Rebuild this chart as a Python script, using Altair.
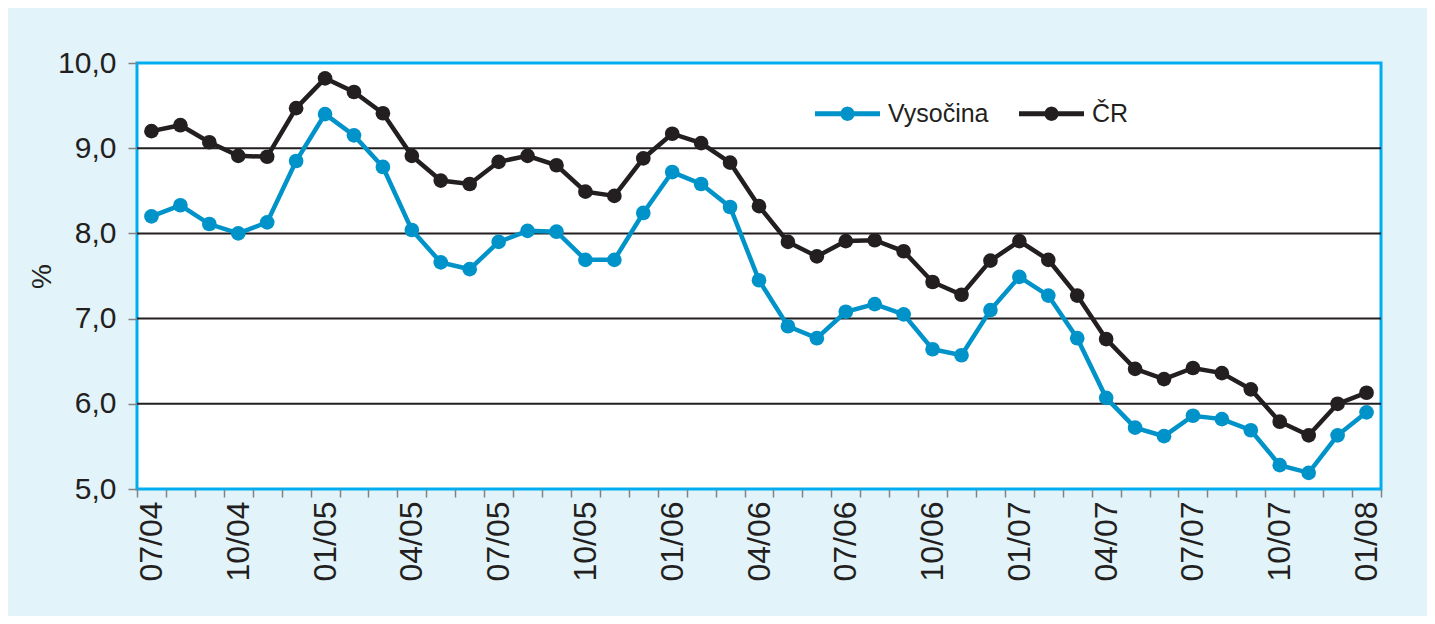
import json
import altair as alt
import pandas as pd

months = ["07/04","08/04","09/04","10/04","11/04","12/04",
          "01/05","02/05","03/05","04/05","05/05","06/05","07/05","08/05","09/05","10/05","11/05","12/05",
          "01/06","02/06","03/06","04/06","05/06","06/06","07/06","08/06","09/06","10/06","11/06","12/06",
          "01/07","02/07","03/07","04/07","05/07","06/07","07/07","08/07","09/07","10/07","11/07","12/07",
          "01/08"]

vysocina = [8.20, 8.33, 8.11, 8.00, 8.13, 8.85,
            9.40, 9.15, 8.78, 8.04, 7.66, 7.58, 7.90, 8.03, 8.02, 7.69, 7.69, 8.24,
            8.72, 8.58, 8.31, 7.45, 6.91, 6.77, 7.08, 7.17, 7.05, 6.64, 6.57, 7.10,
            7.49, 7.27, 6.77, 6.07, 5.72, 5.62, 5.86, 5.82, 5.69, 5.28, 5.19, 5.63,
            5.90]

cr = [9.20, 9.27, 9.07, 8.91, 8.90, 9.47,
      9.82, 9.66, 9.41, 8.91, 8.62, 8.58, 8.84, 8.91, 8.80, 8.49, 8.44, 8.88,
      9.17, 9.06, 8.83, 8.32, 7.90, 7.73, 7.91, 7.92, 7.79, 7.43, 7.28, 7.68,
      7.91, 7.69, 7.27, 6.76, 6.41, 6.29, 6.42, 6.36, 6.17, 5.79, 5.63, 6.00,
      6.13]

series_names = ["Vysočina", "ČR"]
series_colors = ["#0093c9", "#231f20"]
y_ticks = [5, 6, 7, 8, 9, 10]
grid_values = [6, 7, 8, 9]

rows = []
for name, vals in zip(series_names, [vysocina, cr]):
    for i, (m, v) in enumerate(zip(months, vals)):
        rows.append({"idx": i, "month": m, "value": v, "series": name})
df = pd.DataFrame(rows)

n = len(months)
boundaries = [i - 0.5 for i in range(n + 1)]
quarter_labels = [m if m[:2] in ("01", "04", "07", "10") else "" for m in months] + [""]

FONT = "Liberation Sans"
TXT = "#231f20"
W, H = 1244, 426
band_half = W / n / 2

x = alt.X("idx:Q", title=None,
          scale=alt.Scale(domain=[-0.5, n - 0.5], nice=False, zero=False),
          axis=alt.Axis(values=boundaries, labelAngle=-90, labelOverlap=False, labelBound=False,
                        labelFlush=False,
                        labelExpr=json.dumps(quarter_labels) + "[round(datum.value + 0.5)]",
                        labelOffset=band_half,
                        labelFontSize=32, labelFont=FONT, labelColor=TXT, labelPadding=4,
                        tickColor="#808285", tickSize=8, tickWidth=1.5,
                        domain=False, grid=False))

y_scale = alt.Scale(domain=[5, 10], nice=False, zero=False)
y_axis = alt.Axis(values=y_ticks,
                  labelExpr="replace(format(datum.value, '.1f'), '.', ',')",
                  labelFontSize=30, labelFont=FONT, labelColor=TXT, labelPadding=12,
                  tickColor="#808285", tickSize=9, tickWidth=1.5,
                  domain=False, grid=False,
                  titleFont=FONT, titleFontSize=28, titleFontWeight="normal", titleColor=TXT,
                  titlePadding=1)

y = alt.Y("value:Q", title="%", scale=y_scale, axis=y_axis)

color_scale = alt.Scale(domain=series_names, range=series_colors)

legend_path = ("M-1,-0.08L-0.205,-0.08L-0.19,-0.11L-0.156,-0.156L-0.11,-0.19L0,-0.22"
               "L0.11,-0.19L0.156,-0.156L0.19,-0.11L0.205,-0.08L1,-0.08L1,0.08"
               "L0.205,0.08L0.19,0.11L0.156,0.156L0.11,0.19L0,0.22L-0.11,0.19"
               "L-0.156,0.156L-0.19,0.11L-0.205,0.08L-1,0.08Z")

legend = alt.Legend(title=None, orient="none", direction="horizontal",
                    legendX=678, legendY=18,
                    symbolType=legend_path, symbolSize=4225,
                    symbolStrokeWidth=0, symbolOpacity=1,
                    labelFont=FONT, labelFontSize=25, labelColor=TXT,
                    labelOffset=8, columnPadding=30)

color = alt.Color("series:N", scale=color_scale, legend=legend)

grid = alt.Chart(pd.DataFrame({"g": grid_values})).mark_rule(color="#231f20", strokeWidth=2).encode(
    y=alt.Y("g:Q", title="%", scale=y_scale, axis=y_axis),
)

base = alt.Chart(df)

lines = base.mark_line(strokeWidth=4.5).encode(x=x, y=y, color=color)

points = base.mark_point(filled=True, size=215, opacity=1).encode(x=x, y=y, color=color)

chart = alt.layer(grid, lines, points).properties(
    width=W, height=H,
    padding={"left": 129, "top": 55, "right": 46, "bottom": 127},
    autosize=alt.AutoSizeParams(type="none"),
    background="#e2f3fa",
).configure_view(
    fill="white", stroke="#00aeef", strokeWidth=3,
)

chart.save("out.html", embed_options={"renderer": "svg", "actions": False})
